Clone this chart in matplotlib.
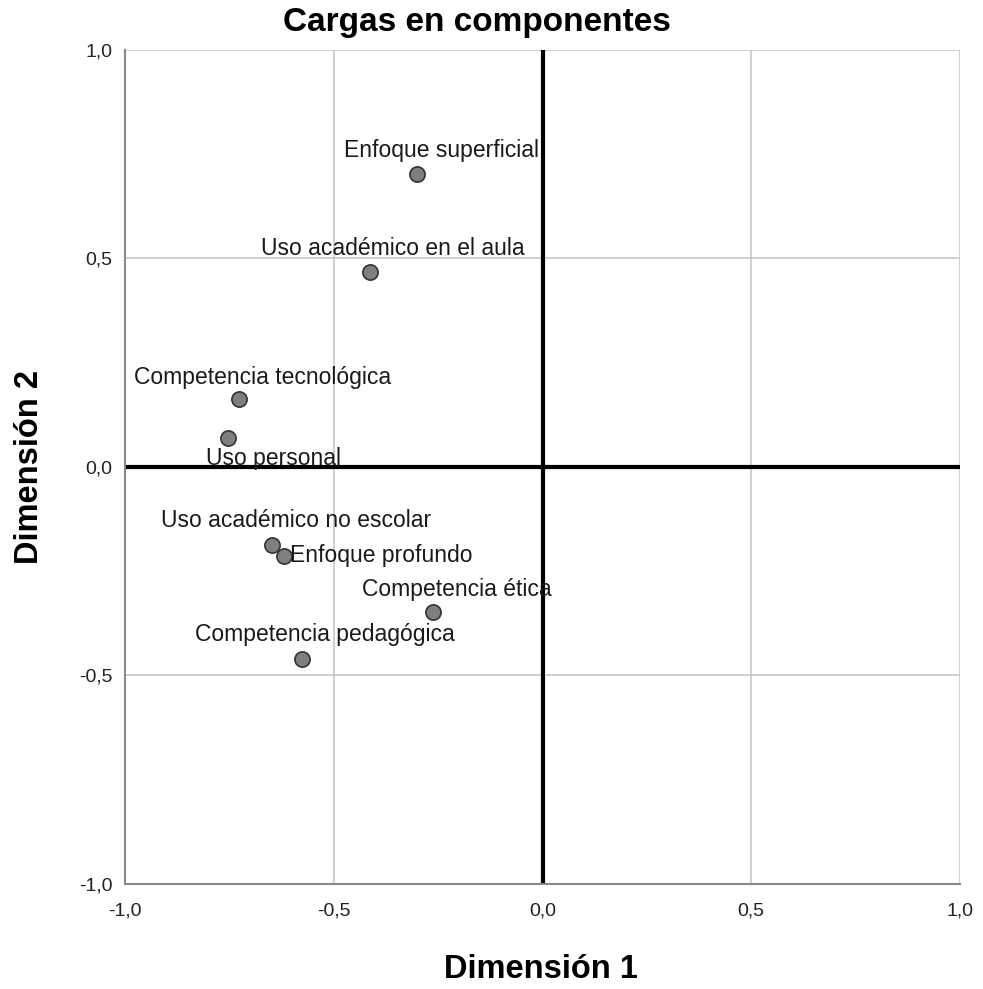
import matplotlib
matplotlib.use("Agg")
import matplotlib.pyplot as plt

names = ["Enfoque superficial", "Uso académico en el aula", "Competencia tecnológica",
         "Uso personal", "Uso académico no escolar", "Enfoque profundo",
         "Competencia ética", "Competencia pedagógica"]
dim1 = [-0.300, -0.414, -0.726, -0.754, -0.649, -0.618, -0.263, -0.577]
dim2 = [0.702, 0.468, 0.163, 0.070, -0.187, -0.213, -0.348, -0.460]
ticks = [-1.0, -0.5, 0.0, 0.5, 1.0]
tick_labels = ["-1,0", "-0,5", "0,0", "0,5", "1,0"]

# label offsets in pixels (dx, dy up), alignment
offsets = [(24, 24, "center"), (23, 23, "center"), (23, 22, "center"), (46, -21, "center"),
           (25, 24, "center"), (6, 0, "left"), (24, 23, "center"), (23, 24, "center")]

plt.rcParams['font.family'] = ['Liberation Sans', 'DejaVu Sans']
fig = plt.figure(figsize=(9.83, 9.89), dpi=100)
ax = fig.add_axes([125/983, 1-884/989, 835/983, 834/989])
ax.set_xlim(-1, 1)
ax.set_ylim(-1, 1)
ax.set_xticks(ticks)
ax.set_yticks(ticks)
ax.set_xticklabels(tick_labels)
ax.set_yticklabels(tick_labels)
ax.tick_params(length=0, labelsize=14, colors="#222222")
ax.tick_params(axis="x", pad=13)
ax.tick_params(axis="y", pad=9)
ax.grid(True, color="#c8c8c8", linewidth=1.2)
ax.set_axisbelow(True)
for s in ["top", "right"]:
    ax.spines[s].set_visible(False)
for s in ["left", "bottom"]:
    ax.spines[s].set_color("#888888")
    ax.spines[s].set_linewidth(1.5)

ax.axhline(0, color="black", linewidth=3, zorder=2)
ax.axvline(0, color="black", linewidth=3, zorder=2)

ax.scatter(dim1, dim2, s=120, facecolor="#7f7f7f", edgecolor="#333333", linewidth=1.2, zorder=3)
for n, x, y, (dx, dy, ha) in zip(names, dim1, dim2, offsets):
    ax.annotate(n, (x, y), xytext=(dx*0.72, dy*0.72), textcoords="offset points",
                ha=ha, va="center", fontsize=16.5, color="#1a1a1a", zorder=4)

fig.text(477/983, 1-22/989, "Cargas en componentes", ha="center", va="center",
         fontsize=24, fontweight="bold")
fig.text(541/983, 1-970/989, "Dimensión 1", ha="center", va="center",
         fontsize=23.5, fontweight="bold")
fig.text(30/983, 1-467/989, "Dimensión 2", ha="center", va="center",
         fontsize=23.5, fontweight="bold", rotation=90)

fig.savefig("out.png", dpi=100)
